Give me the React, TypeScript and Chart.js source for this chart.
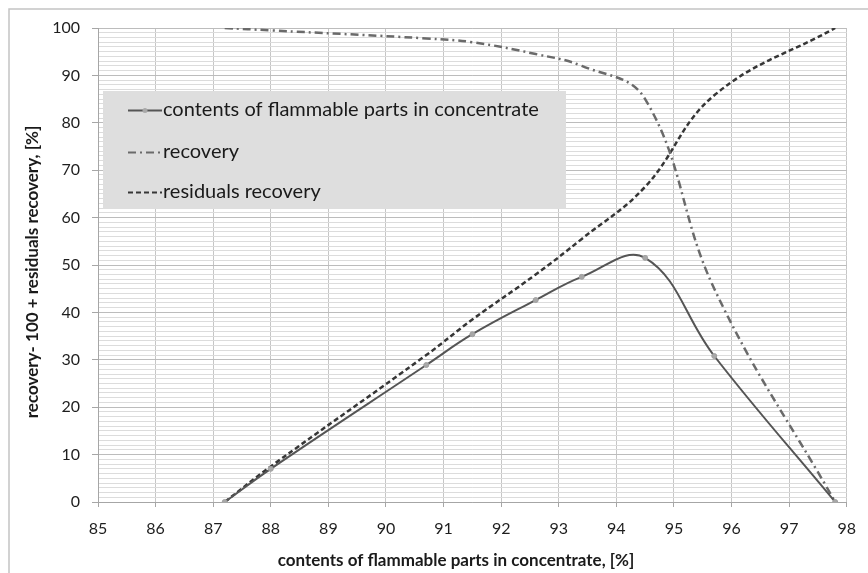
import React, { useEffect, useRef } from "react";
import { Chart, registerables } from "chart.js";

Chart.register(...registerables);

// ---- data ----
const xValues = [87.2, 88.0, 90.7, 91.5, 92.6, 93.4, 94.5, 95.7, 97.8];
const contentsValues = [0, 7, 28.9, 35.4, 42.6, 47.5, 51.5, 30.8, 0];
const recoveryValues = [100, 99.5, 97.8, 97, 94.5, 92, 85, 45, 0];
const residualsValues = [0, 7.5, 31, 38.5, 48, 55.5, 66.5, 85.8, 100];
const seriesLabels = [
  "contents of flammable parts in concentrate",
  "recovery",
  "residuals recovery",
];
const xTitle = "contents of flammable parts in concentrate, [%]";
const yTitle = "recovery- 100 + residuals recovery, [%]";
const xMin = 85;
const xMax = 98;
const yMin = 0;
const yMax = 100;

const FONT = "Lato, 'Open Sans', sans-serif";

const decorPlugin = {
  id: "decor",
  beforeDatasetsDraw(chart: any) {
    const ctx = chart.ctx;
    ctx.save();
    // legend box
    const bx = 103, by = 91, bw = 463, bh = 118;
    ctx.fillStyle = "#dedede";
    ctx.fillRect(bx, by, bw, bh);
    const rows = [110, 152, 192];
    const ds = chart.data.datasets;
    for (let i = 0; i < 3; i++) {
      const y = rows[i];
      const d = ds[i];
      ctx.strokeStyle = d.borderColor;
      ctx.lineWidth = 2;
      ctx.setLineDash(d.borderDash || []);
      ctx.beginPath();
      ctx.moveTo(128, y + 0.5);
      ctx.lineTo(162, y + 0.5);
      ctx.stroke();
      ctx.setLineDash([]);
      if (i === 0) {
        ctx.fillStyle = d.pointBackgroundColor;
        ctx.beginPath();
        ctx.arc(145, y + 0.5, 2.5, 0, Math.PI * 2);
        ctx.fill();
      }
      ctx.fillStyle = "#1a1a1a";
      ctx.font = `20px ${FONT}`;
      ctx.textBaseline = "middle";
      ctx.textAlign = "left";
      ctx.fillText(d.label, 163, y);
    }
    ctx.restore();
  },
  afterDraw(chart: any) {
    const ctx = chart.ctx;
    ctx.save();
    // outer frame
    ctx.strokeStyle = "#c4c4c4";
    ctx.lineWidth = 1.5;
    ctx.strokeRect(9, 9, 900, 600);
    // axis titles
    ctx.fillStyle = "#1a1a1a";
    ctx.font = `bold 17px ${FONT}`;
    ctx.textAlign = "center";
    ctx.textBaseline = "middle";
    ctx.fillText(xTitle, 456, 561);
    ctx.translate(33, 272);
    ctx.rotate(-Math.PI / 2);
    ctx.fillText(yTitle, 0, 0);
    ctx.restore();
  },
};

function App() {
  const ref = useRef<HTMLCanvasElement | null>(null);
  useEffect(() => {
    if (!ref.current) return;
    const toPts = (ys: number[]) => xValues.map((x, i) => ({ x, y: ys[i] }));
    const chart = new Chart(ref.current, {
      type: "line",
      data: {
        datasets: [
          {
            label: seriesLabels[0],
            data: toPts(contentsValues),
            borderColor: "#555555",
            borderWidth: 2,
            pointRadius: 2.5,
            pointBackgroundColor: "#a8a8a8",
            pointBorderColor: "#a0a0a0",
            pointBorderWidth: 1,
            tension: 0.4,
            fill: false,
          },
          {
            label: seriesLabels[1],
            data: toPts(recoveryValues),
            borderColor: "#6a6a6a",
            borderWidth: 2.5,
            borderDash: [8, 4, 2, 4],
            pointRadius: 0,
            tension: 0.4,
            fill: false,
          },
          {
            label: seriesLabels[2],
            data: toPts(residualsValues),
            borderColor: "#363636",
            borderWidth: 2.5,
            borderDash: [5, 3],
            pointRadius: 0,
            tension: 0.4,
            fill: false,
          },
        ] as any,
      },
      options: {
        animation: false,
        responsive: false,
        maintainAspectRatio: false,
        layout: { padding: { left: 0, top: 28, right: 10, bottom: 0 } },
        plugins: {
          legend: { display: false },
          tooltip: { enabled: false },
          title: { display: false },
        },
        scales: {
          x: {
            type: "linear",
            min: xMin,
            max: xMax,
            afterFit: (s: any) => {
              s.height = 71;
            },
            ticks: {
              stepSize: 1,
              autoSkip: false,
              maxRotation: 0,
              padding: 12,
              color: "#1e1e1e",
              font: { family: FONT, size: 16 },
            },
            grid: {
              color: "#c6c6c6",
              lineWidth: 1,
              tickLength: 5,
              tickColor: "#a6a6a6",
            },
            border: { color: "#a6a6a6", width: 1 },
          },
          y: {
            type: "linear",
            min: yMin,
            max: yMax,
            afterFit: (s: any) => {
              s.width = 98;
            },
            ticks: {
              stepSize: 1,
              maxTicksLimit: 500,
              autoSkip: false,
              padding: 12,
              color: "#1e1e1e",
              font: { family: FONT, size: 16 },
              callback: (v: any) => (Number(v) % 10 === 0 ? String(v) : ""),
            },
            grid: {
              color: (c: any) =>
                c.tick && c.tick.value % 10 === 0 ? "#bcbcbc" : "#dcdcdc",
              lineWidth: 1,
              tickLength: 6,
              tickColor: (c: any) =>
                c.tick && c.tick.value % 10 === 0 ? "#a6a6a6" : "rgba(0,0,0,0)",
            },
            border: { color: "#a6a6a6", width: 1 },
          },
        },
      },
      plugins: [decorPlugin],
    });
    return () => chart.destroy();
  }, []);
  return (
    <div
      style={{
        position: "fixed",
        left: 0,
        top: 0,
        width: 868,
        height: 573,
        background: "#ffffff",
      }}
    >
      <canvas ref={ref} width={868} height={573} style={{ display: "block" }} />
    </div>
  );
}

export default App;
